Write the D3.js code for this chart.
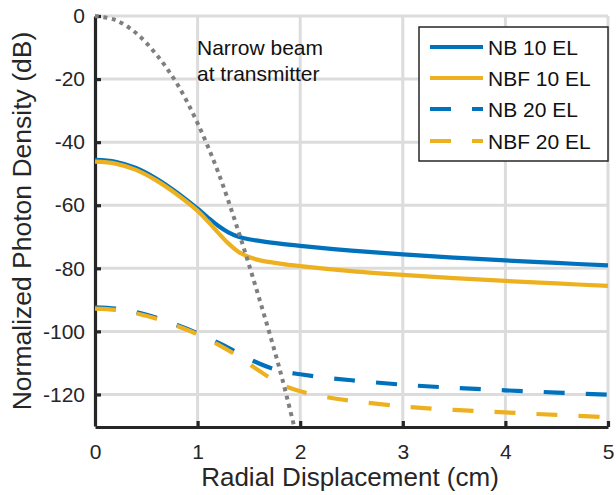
<!DOCTYPE html>
<html>
<head>
<meta charset="utf-8">
<script src="https://cdn.jsdelivr.net/npm/d3@7"></script>
<style>
  html, body { margin: 0; padding: 0; background: #fff; }
  svg { display: block; font-family: "Liberation Sans", Arial, sans-serif; }
</style>
</head>
<body>
<svg id="chart" width="616" height="495"></svg>
<script>
// ---- data ----
const xSolid = [0, 0.2, 0.4, 0.6, 0.8, 1.0, 1.1, 1.2, 1.3, 1.4, 1.5, 1.6, 1.8, 2, 2.5, 3, 3.5, 4, 4.5, 5];
const nb10   = [-45.6, -46.2, -48.2, -51.6, -56.0, -61.1, -63.9, -66.5, -68.6, -70.0, -70.8, -71.3, -72.2, -72.9, -74.4, -75.6, -76.6, -77.5, -78.3, -79.1];
const nbf10  = [-46.2, -46.8, -48.8, -52.2, -56.6, -61.8, -65.1, -68.7, -72.1, -74.8, -76.4, -77.4, -78.5, -79.3, -80.9, -82.1, -83.1, -84.0, -84.8, -85.6];

const xDashed = [0, 0.2, 0.4, 0.6, 0.8, 1.0, 1.2, 1.4, 1.6, 1.8, 2, 2.25, 2.5, 3, 3.5, 4, 4.5, 5];
const nb20    = [-92.4, -92.8, -93.9, -95.7, -98.0, -100.6, -103.6, -106.9, -110.2, -112.5, -113.6, -114.7, -115.5, -116.9, -117.9, -118.7, -119.4, -120.1];
const nbf20   = [-92.8, -93.2, -94.3, -96.0, -98.3, -100.9, -104.2, -108.0, -112.5, -116.6, -119.0, -120.8, -122.0, -123.8, -124.9, -125.7, -126.5, -127.2];

const xBeam = [0, 0.2, 0.4, 0.6, 0.8, 1.0, 1.2, 1.4, 1.6, 1.8, 1.94];
const beam  = [0, -1.3, -5.4, -12.3, -21.5, -34.0, -49.5, -68.5, -89.5, -112.0, -130.0];

const xTicks = [0, 1, 2, 3, 4, 5];
const yTicks = [0, -20, -40, -60, -80, -100, -120];
const seriesNames = ["NB 10 EL", "NBF 10 EL", "NB 20 EL", "NBF 20 EL"];
const annotation = ["Narrow beam", "at transmitter"];
const xLabel = "Radial Displacement (cm)";
const yLabel = "Normalized Photon Density (dB)";

// ---- styles ----
const BLUE = "#0072BD", YELLOW = "#EDB120", GRAY = "#7f7f7f", AXIS = "#262626", GRID = "#dcdcdc";

const svg = d3.select("#chart");
const x = d3.scaleLinear().domain([0, 5]).range([95, 608]);
const y = d3.scaleLinear().domain([-130, 0]).range([426, 16]);

// grid
const grid = svg.append("g");
grid.selectAll("line.gx").data(xTicks.filter(d => d > 0)).join("line")
  .attr("x1", d => x(d)).attr("x2", d => x(d))
  .attr("y1", y(-130)).attr("y2", y(0))
  .attr("stroke", GRID).attr("stroke-width", 3);
grid.selectAll("line.gy").data(yTicks).join("line")
  .attr("y1", d => y(d)).attr("y2", d => y(d))
  .attr("x1", x(0)).attr("x2", x(5))
  .attr("stroke", GRID).attr("stroke-width", 3);

// axes
const xAxis = d3.axisBottom(x).tickValues(xTicks).tickFormat(d3.format("d")).tickSizeInner(-6).tickSizeOuter(0).tickPadding(16);
const yAxis = d3.axisLeft(y).tickValues(yTicks).tickFormat(d3.format("d")).tickSizeInner(-6).tickSizeOuter(0).tickPadding(16);

function styleAxis(g) {
  g.select(".domain").attr("stroke", AXIS).attr("stroke-width", 3.2);
  g.selectAll(".tick line").attr("stroke", AXIS).attr("stroke-width", 3.2);
  g.selectAll(".tick text").attr("fill", "#262626").style("font-size", "21px")
    .style("font-family", "'Liberation Sans', Arial, sans-serif");
}
const gx = svg.append("g").attr("transform", `translate(0,${y(-130) + 1})`).call(xAxis).call(styleAxis);
gx.selectAll(".tick text").attr("dy", "0.71em").attr("y", 17);
const gy = svg.append("g").attr("transform", `translate(${x(0)},0)`).call(yAxis).call(styleAxis);
gy.selectAll(".tick text").text(d => d3.format("d")(d).replace("−", "-")).attr("x", -10);
gx.selectAll(".tick").filter(d => d === 0).select("line").remove();

// lines
const line = d3.line().x(d => x(d[0])).y(d => y(d[1])).curve(d3.curveCatmullRom.alpha(0.5));
const zip = (xs, ys) => xs.map((v, i) => [v, ys[i]]);

const plot = svg.append("g");
plot.append("path").datum(zip(xSolid, nb10)).attr("d", line)
  .attr("fill", "none").attr("stroke", BLUE).attr("stroke-width", 4.2);
plot.append("path").datum(zip(xSolid, nbf10)).attr("d", line)
  .attr("fill", "none").attr("stroke", YELLOW).attr("stroke-width", 4.2);
plot.append("path").datum(zip(xDashed, nb20)).attr("d", line)
  .attr("fill", "none").attr("stroke", BLUE).attr("stroke-width", 4.2)
  .attr("stroke-dasharray", "21,21");
plot.append("path").datum(zip(xDashed, nbf20)).attr("d", line)
  .attr("fill", "none").attr("stroke", YELLOW).attr("stroke-width", 4.2)
  .attr("stroke-dasharray", "21,21");
plot.append("path").datum(zip(xBeam, beam)).attr("d", line)
  .attr("fill", "none").attr("stroke", GRAY).attr("stroke-width", 4)
  .attr("stroke-dasharray", "4,4.5");

// annotation
const ann = svg.append("text").attr("x", 197).attr("y", 55)
  .style("font-size", "21px").attr("fill", "#111");
ann.selectAll("tspan").data(annotation).join("tspan")
  .attr("x", 197).attr("dy", (d, i) => i === 0 ? 0 : 26).text(d => d);

// legend
const leg = svg.append("g");
leg.append("rect").attr("x", 419).attr("y", 27).attr("width", 189).attr("height", 134)
  .attr("fill", "#fff").attr("stroke", "#262626").attr("stroke-width", 1.5);
const legColors = [BLUE, YELLOW, BLUE, YELLOW];
const legDash = [null, null, "21,21", "21,21"];
const legY = [47, 78, 109, 141];
seriesNames.forEach((name, i) => {
  leg.append("line").attr("x1", 430).attr("x2", 483).attr("y1", legY[i]).attr("y2", legY[i])
    .attr("stroke", legColors[i]).attr("stroke-width", 4.2)
    .attr("stroke-dasharray", legDash[i]);
  leg.append("text").attr("x", 488).attr("y", legY[i] + 7.5)
    .style("font-size", "21px").attr("fill", "#111").text(name);
});

// axis titles
svg.append("text").attr("x", 350).attr("y", 486).attr("text-anchor", "middle")
  .style("font-size", "26px").attr("fill", "#262626").text(xLabel);
svg.append("text").attr("transform", "translate(31,221) rotate(-90)").attr("text-anchor", "middle")
  .style("font-size", "26.5px").attr("fill", "#262626").text(yLabel);
</script>
</body>
</html>
